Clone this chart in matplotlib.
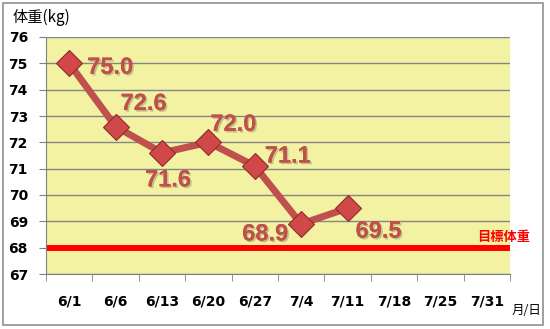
import matplotlib.pyplot as plt
import matplotlib.patheffects as pe
from matplotlib.patches import Rectangle

plt.rcParams['font.family'] = ['DejaVu Sans', 'Noto Sans CJK JP']

dates = ["6/1", "6/6", "6/13", "6/20", "6/27", "7/4", "7/11", "7/18", "7/25", "7/31"]
weights = [75.0, 72.6, 71.6, 72.0, 71.1, 68.9, 69.5]
target = 68
# label offsets in pixels (dx, dy, ha)
offsets = [(18, -4, "left"), (5, 23, "left"), (6, -27, "center"), (2, 18, "left"),
           (10, 10, "left"), (-13, -10, "right"), (8, -23, "left")]

RED = "#C0504D"

fig = plt.figure(figsize=(5.5, 3.29), dpi=100)
ax = fig.add_axes([46 / 550, 1 - 274 / 329, 464 / 550, 237 / 329])
ax.set_facecolor("#F2F2A2")

xs = list(range(len(weights)))
ax.plot(xs, weights, color=RED, lw=5, zorder=3, solid_capstyle="butt")
ax.plot(xs, weights, ls="none", marker="D", ms=13, mfc="#D0484A",
        mec="#8E2B29", mew=0.8, zorder=4)

shadow = [pe.withSimplePatchShadow(offset=(1.2, -1.2), shadow_rgbFace="#8a8a60", alpha=0.45),
          pe.Normal()]
for x, w, (dx, dy, ha) in zip(xs, weights, offsets):
    ax.annotate(f"{w:.1f}", (x, w), xytext=(dx * 0.72, dy * 0.72), textcoords="offset points",
                ha=ha, va="center", fontsize=17, fontweight="bold", color=RED,
                family=["Liberation Sans"], path_effects=shadow, zorder=5)

ax.axhline(target, color="#FF0000", lw=4.3, zorder=2)
ax.annotate("目標体重", (1, target), xytext=(-33 * 0.72, 11 * 0.72), textcoords="offset points",
            xycoords=("axes fraction", "data"), ha="left", va="center", fontsize=9.5,
            fontweight="bold", color="#FF0000", family=["Noto Sans CJK JP"],
            annotation_clip=False)

ax.set_xlim(-0.5, len(dates) - 0.5)
ax.set_ylim(67, 76)
ax.set_yticks(range(67, 77))
ax.set_xticks(xs + list(range(len(weights), len(dates))))
ax.set_xticklabels(dates)
ax.set_xticks([i - 0.5 for i in range(len(dates) + 1)], minor=True)
ax.tick_params(axis="x", which="major", length=0, pad=15)
ax.tick_params(axis="x", which="minor", length=5, color="#808080")
ax.tick_params(axis="y", length=5, color="#808080", pad=8)
for lab in ax.get_xticklabels() + ax.get_yticklabels():
    lab.set_fontweight("bold")
    lab.set_fontsize(10)
ax.grid(axis="y", color="#868686", lw=1)
ax.set_axisbelow(True)
for s in ["top", "right"]:
    ax.spines[s].set_visible(False)
ax.spines["left"].set_color("#808080")
ax.spines["bottom"].set_color("#808080")

fig.text(13 / 550, 1 - 17 / 329, "体重(kg)", fontsize=11, va="center", ha="left",
         family=["Noto Sans CJK JP"])
fig.text(512 / 550, 1 - 311 / 329, "月/日", fontsize=9, va="center", ha="left",
         family=["Noto Sans CJK JP"])
fig.patches.append(Rectangle((3 / 550, 4 / 329), 540 / 550, 322 / 329, transform=fig.transFigure,
                             fill=False, ec="#909090", lw=1.2))

fig.savefig("out.png", dpi=100)
